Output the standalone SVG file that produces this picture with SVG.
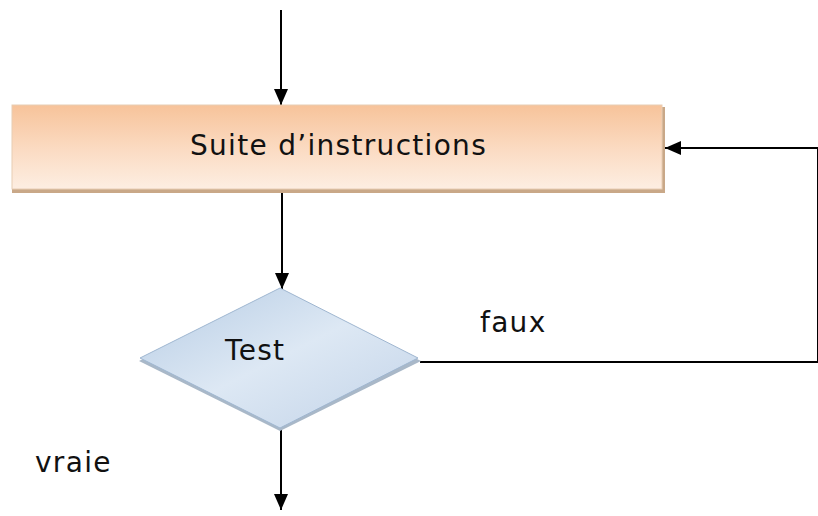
<svg xmlns="http://www.w3.org/2000/svg" width="818" height="516" viewBox="0 0 818 516">
<style>
.lbl{font-family:"DejaVu Sans","Liberation Sans",sans-serif;font-size:28px;letter-spacing:1.3px;fill:#111}
.conn{stroke:#000;stroke-width:2;fill:none}
</style>
<defs>
<marker id="ah" viewBox="0 0 16 14" refX="16" refY="7" markerWidth="16" markerHeight="14" markerUnits="userSpaceOnUse" orient="auto">
<path d="M0,0 L16,7 L0,14 Z" fill="#000"/>
</marker>
<linearGradient id="og" x1="0" y1="0" x2="0" y2="1">
<stop offset="0" stop-color="#f7c39a"/>
<stop offset="0.55" stop-color="#fbdcc4"/>
<stop offset="1" stop-color="#fdeee2"/>
</linearGradient>
<linearGradient id="bg" x1="0" y1="0" x2="1" y2="1">
<stop offset="0" stop-color="#b6cce4"/>
<stop offset="0.5" stop-color="#dde8f4"/>
<stop offset="1" stop-color="#c2d3e8"/>
</linearGradient>
</defs>
<rect width="818" height="516" fill="#fff"/>
<g id="connectors">
<line class="conn" x1="281" y1="10" x2="281" y2="105" marker-end="url(#ah)"/>
<line class="conn" x1="282" y1="193" x2="282" y2="289" marker-end="url(#ah)"/>
<line class="conn" x1="281" y1="428" x2="281" y2="510" marker-end="url(#ah)"/>
<polyline class="conn" points="420,362 818,362 818,148 665,148" marker-end="url(#ah)"/>
</g>
<g id="node-instructions">
<rect x="12" y="107" width="653" height="86" fill="#c9a888"/>
<rect x="12" y="105" width="650" height="84" fill="url(#og)" stroke="#e8cdb4" stroke-width="1"/>
<text class="lbl" x="190" y="155">Suite d’instructions</text>
</g>
<g id="node-test">
<polygon points="280,291 421,361 280,431 139,361" fill="#a9b8c8"/>
<polygon points="280,288 418,358 280,428 140,358" fill="url(#bg)" stroke="#9fb6d0" stroke-width="1"/>
<text class="lbl" x="225" y="360">Test</text>
</g>
<g id="labels">
<text class="lbl" x="480" y="332">faux</text>
<text class="lbl" x="35" y="472">vraie</text>
</g>
</svg>
